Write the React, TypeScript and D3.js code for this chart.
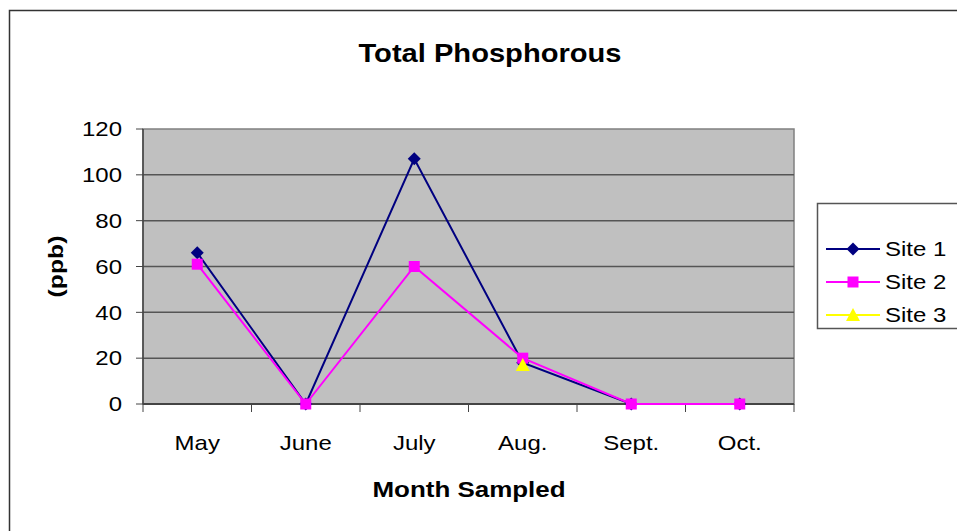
import React from "react"
import * as d3 from "d3"

const months = ["May", "June", "July", "Aug.", "Sept.", "Oct."]
const site1 = [66, 0, 107, 18, 0, 0]
const site2 = [61, 0, 60, 20, 0, 0]
const site3: (number | null)[] = [null, null, null, 17, null, null]
const yTicks = [0, 20, 40, 60, 80, 100, 120]

const series = [
  { name: "Site 1", values: site1, color: "#000080", marker: "diamond" },
  { name: "Site 2", values: site2, color: "#FF00FF", marker: "square" },
  { name: "Site 3", values: site3, color: "#FFFF00", marker: "triangle" },
]

const W = 957
const H = 531
const left = 143
const right = 794
const top = 129
const bottom = 404

const font = "'Liberation Sans', Arial, sans-serif"

// the original text is a bit wider than plain Arial, so stretch it sideways
function T(props: {
  x: number
  y: number
  size: number
  sx?: number
  anchor?: string
  bold?: boolean
  dy?: string
  rotate?: number
  children: React.ReactNode
}) {
  const { x, y, size, sx = 1.2, anchor = "start", bold, dy, rotate = 0, children } = props
  return (
    <text
      transform={`translate(${x},${y}) rotate(${rotate}) scale(${sx},1)`}
      textAnchor={anchor}
      fontSize={size}
      fontWeight={bold ? "bold" : "normal"}
      dy={dy}
    >
      {children}
    </text>
  )
}

function Marker({ type, x, y, color }: { type: string; x: number; y: number; color: string }) {
  if (type === "diamond") {
    return <path d={`M${x},${y - 6.5}L${x + 6.5},${y}L${x},${y + 6.5}L${x - 6.5},${y}Z`} fill={color} />
  }
  if (type === "square") {
    return <rect x={x - 5.5} y={y - 5.5} width={11} height={11} fill={color} />
  }
  return <path d={`M${x},${y - 7}L${x + 7},${y + 6}L${x - 7},${y + 6}Z`} fill={color} />
}

export default function App() {
  const x = d3.scaleBand<string>().domain(months).range([left, right])
  const y = d3.scaleLinear().domain([0, 120]).range([bottom, top])
  const cx = (m: string) => (x(m) as number) + x.bandwidth() / 2

  const line = d3
    .line<number | null>()
    .defined(d => d != null)
    .x((_, i) => cx(months[i]))
    .y(d => y(d as number))

  return (
    <svg
      width={W}
      height={H}
      style={{ position: "absolute", left: 0, top: 0, background: "#fff" }}
      fontFamily={font}
    >
      <rect x={9.5} y={10.5} width={W} height={H} fill="#fff" stroke="#333" strokeWidth={1.5} />

      <T x={490} y={62} size={26} sx={1.12} anchor="middle" bold>
        Total Phosphorous
      </T>

      <rect x={left} y={top} width={right - left} height={bottom - top} fill="#C0C0C0" stroke="#808080" strokeWidth={1.5} />

      {yTicks.map(t => (
        <g key={t}>
          {t > 0 && t < 120 && (
            <line x1={left} x2={right} y1={y(t)} y2={y(t)} stroke="#555" strokeWidth={1.5} />
          )}
          <line x1={left - 7} x2={left} y1={y(t)} y2={y(t)} stroke="#444" strokeWidth={1} />
          <T x={122} y={y(t)} size={20} anchor="end" dy="0.36em">
            {t}
          </T>
        </g>
      ))}

      <line x1={left} x2={left} y1={top} y2={bottom} stroke="#444" strokeWidth={1.5} />
      <line x1={left} x2={right} y1={bottom} y2={bottom} stroke="#444" strokeWidth={2} />

      {months.map((m, i) => (
        <g key={m}>
          <line x1={x(m)} x2={x(m)} y1={bottom} y2={bottom + 8} stroke="#444" />
          {i === months.length - 1 && (
            <line x1={right} x2={right} y1={bottom} y2={bottom + 8} stroke="#444" />
          )}
          <T x={cx(m)} y={450} size={20} anchor="middle">
            {m}
          </T>
        </g>
      ))}

      <T x={469} y={497} size={22} sx={1.18} anchor="middle" bold>
        Month Sampled
      </T>
      <T x={63} y={(top + bottom) / 2} size={21} sx={1.18} anchor="middle" bold rotate={-90}>
        (ppb)
      </T>

      {series.map(s => (
        <g key={s.name}>
          <path d={line(s.values) as string} fill="none" stroke={s.color} strokeWidth={2} />
          {s.values.map((v, i) =>
            v == null ? null : (
              <Marker key={i} type={s.marker} x={cx(months[i])} y={y(v)} color={s.color} />
            )
          )}
        </g>
      ))}

      <rect x={817.5} y={203.5} width={200} height={125} fill="#fff" stroke="#555" strokeWidth={1.5} />
      {series.map((s, i) => {
        const ly = 249 + i * 33
        return (
          <g key={s.name}>
            <line x1={826} x2={880} y1={ly} y2={ly} stroke={s.color} strokeWidth={2} />
            <Marker type={s.marker} x={853} y={ly} color={s.color} />
            <T x={885} y={ly} size={20} dy="0.36em">
              {s.name}
            </T>
          </g>
        )
      })}
    </svg>
  )
}
